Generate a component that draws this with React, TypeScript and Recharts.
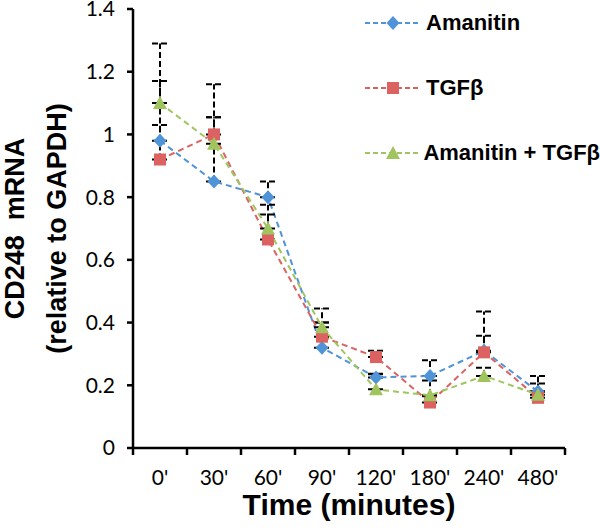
import React from 'react';
import { LineChart, Line, XAxis, YAxis, ErrorBar, Legend } from 'recharts';

const categories = ["0'", "30'", "60'", "90'", "120'", "180'", "240'", "480'"];
const amanitin = [0.98, 0.85, 0.8, 0.32, 0.225, 0.23, 0.31, 0.18];
const tgf = [0.92, 1.0, 0.665, 0.355, 0.29, 0.145, 0.305, 0.16];
const combo = [1.1, 0.97, 0.7, 0.385, 0.187, 0.168, 0.23, 0.17];
const amanitinErr = [0.05, 0.205, 0.05, 0.08, 0.01, 0.05, 0.125, 0.05];
const tgfErr = [0.25, 0.16, 0.08, 0.045, 0.02, 0.02, 0.053, 0.046];
const comboErr = [0.19, 0.085, 0.076, 0.06, 0.05, 0.047, 0.026, 0.01];
const yTicks = [0, 0.2, 0.4, 0.6, 0.8, 1, 1.2, 1.4];

const seriesNames = ['Amanitin', 'TGFβ', 'Amanitin + TGFβ'];
const colors = ['#4f93d8', '#dc6262', '#a0c55e'];

const data = categories.map((t, i) => ({
  time: t,
  a: amanitin[i],
  t: tgf[i],
  c: combo[i],
  aErr: [0, amanitinErr[i]],
  tErr: [0, tgfErr[i]],
  cErr: [0, comboErr[i]],
}));

const SANS = '"Liberation Sans", Arial, sans-serif';
const TICKFONT = 'Lato, "Open Sans", sans-serif';

function Marker({ shape, cx, cy, fill }: { shape: number; cx: number; cy: number; fill: string }) {
  const s = 6.5;
  if (shape === 0) {
    return <path d={`M${cx},${cy - s - 0.5}L${cx + s},${cy}L${cx},${cy + s + 0.5}L${cx - s},${cy}Z`} fill={fill} />;
  }
  if (shape === 1) {
    return <rect x={cx - 6} y={cy - 6} width={12} height={12} fill={fill} />;
  }
  return <path d={`M${cx},${cy - 7}L${cx + 7},${cy + 6}L${cx - 7},${cy + 6}Z`} fill={fill} />;
}

const makeDot = (shape: number) => (props: any) => {
  const { cx, cy, index } = props;
  if (cx == null || cy == null) return <g key={`d${shape}-${index}`} />;
  return (
    <g key={`d${shape}-${index}`}>
      <Marker shape={shape} cx={cx} cy={cy} fill={colors[shape]} />
    </g>
  );
};

const XTick = (props: any) => {
  const { x, y, payload, index, width } = props;
  const half = (payload && payload.offset) || width / categories.length / 2;
  return (
    <g>
      <line x1={x - half} y1={y} x2={x - half} y2={y + 7} stroke="#000" strokeWidth={2.5} />
      {index === categories.length - 1 && (
        <line x1={x + half} y1={y} x2={x + half} y2={y + 7} stroke="#000" strokeWidth={2.5} />
      )}
      <text x={x} y={y + 37} textAnchor="middle" fill="#000" fontSize={21} fontFamily={TICKFONT}>
        {payload.value}
      </text>
    </g>
  );
};

const YLabel = (props: any) => {
  const vb = props.viewBox || { x: 0, y: 9, width: 133, height: 439 };
  const cy = vb.y + vb.height / 2;
  const x1 = vb.x + 15;
  const x2 = vb.x + 57;
  return (
    <g>
      <text
        x={x1}
        y={cy}
        transform={`rotate(-90, ${x1}, ${cy})`}
        textAnchor="middle"
        dominantBaseline="central"
        fontFamily={SANS}
        fontWeight="bold"
        fontSize={27}
        fill="#000"
        style={{ whiteSpace: 'pre' }}
      >
        {'CD248  mRNA'}
      </text>
      <text
        x={x2}
        y={cy}
        transform={`rotate(-90, ${x2}, ${cy})`}
        textAnchor="middle"
        dominantBaseline="central"
        fontFamily={SANS}
        fontWeight="bold"
        fontSize={27}
        fill="#000"
      >
        (relative to GAPDH)
      </text>
    </g>
  );
};

const XLabel = (props: any) => {
  const vb = props.viewBox || { x: 133, y: 448, width: 432, height: 84 };
  return (
    <text
      x={vb.x + vb.width / 2}
      y={vb.y + 67}
      textAnchor="middle"
      fontFamily={SANS}
      fontWeight="bold"
      fontSize={30}
      fill="#000"
    >
      Time (minutes)
    </text>
  );
};

const renderLegend = () => (
  <div style={{ fontFamily: SANS, fontWeight: 'bold', fontSize: 22, color: '#000' }}>
    {seriesNames.map((name, i) => (
      <div key={name} style={{ display: 'flex', alignItems: 'center', height: 30, marginBottom: 35 }}>
        <svg width={56} height={30} style={{ display: 'block' }}>
          <line x1={0} y1={15} x2={56} y2={15} stroke={colors[i]} strokeWidth={2} strokeDasharray="5 3" />
          <Marker shape={i} cx={28} cy={15} fill={colors[i]} />
        </svg>
        <span style={{ marginLeft: 5, whiteSpace: 'nowrap', lineHeight: '30px' }}>{name}</span>
      </div>
    ))}
  </div>
);

export default function App() {
  return (
    <div style={{ position: 'absolute', left: 0, top: 0, width: 600, height: 532, background: '#fff' }}>
      <LineChart width={600} height={532} data={data} margin={{ top: 9, right: 35, left: 0, bottom: 0 }}>
        <XAxis
          dataKey="time"
          scale="band"
          height={84}
          axisLine={{ stroke: '#000', strokeWidth: 2.5 }}
          tickLine={false}
          tickSize={0}
          tickMargin={0}
          interval={0}
          tick={<XTick />}
          label={<XLabel />}
        />
        <YAxis
          width={133}
          domain={[0, 1.4]}
          ticks={yTicks}
          interval={0}
          axisLine={{ stroke: '#000', strokeWidth: 2.5 }}
          tickLine={{ stroke: '#000', strokeWidth: 2.5 }}
          tickSize={6}
          tickMargin={12}
          tick={{ fill: '#000', fontSize: 21, fontFamily: TICKFONT }}
          label={<YLabel />}
        />
        <Legend
          layout="vertical"
          align="center"
          verticalAlign="middle"
          content={renderLegend}
          wrapperStyle={{ top: 8, left: 365, width: 235, height: 200 }}
        />
        <Line
          name={seriesNames[0]}
          dataKey="a"
          stroke={colors[0]}
          strokeWidth={2}
          strokeDasharray="6 4"
          dot={makeDot(0)}
          activeDot={false}
          isAnimationActive={false}
        >
          <ErrorBar dataKey="aErr" direction="y" stroke="#000" strokeWidth={2} strokeDasharray="6 3" width={8} />
        </Line>
        <Line
          name={seriesNames[1]}
          dataKey="t"
          stroke={colors[1]}
          strokeWidth={2}
          strokeDasharray="6 4"
          dot={makeDot(1)}
          activeDot={false}
          isAnimationActive={false}
        >
          <ErrorBar dataKey="tErr" direction="y" stroke="#000" strokeWidth={2} strokeDasharray="6 3" width={8} />
        </Line>
        <Line
          name={seriesNames[2]}
          dataKey="c"
          stroke={colors[2]}
          strokeWidth={2}
          strokeDasharray="6 4"
          dot={makeDot(2)}
          activeDot={false}
          isAnimationActive={false}
        >
          <ErrorBar dataKey="cErr" direction="y" stroke="#000" strokeWidth={2} strokeDasharray="6 3" width={8} />
        </Line>
      </LineChart>
    </div>
  );
}
